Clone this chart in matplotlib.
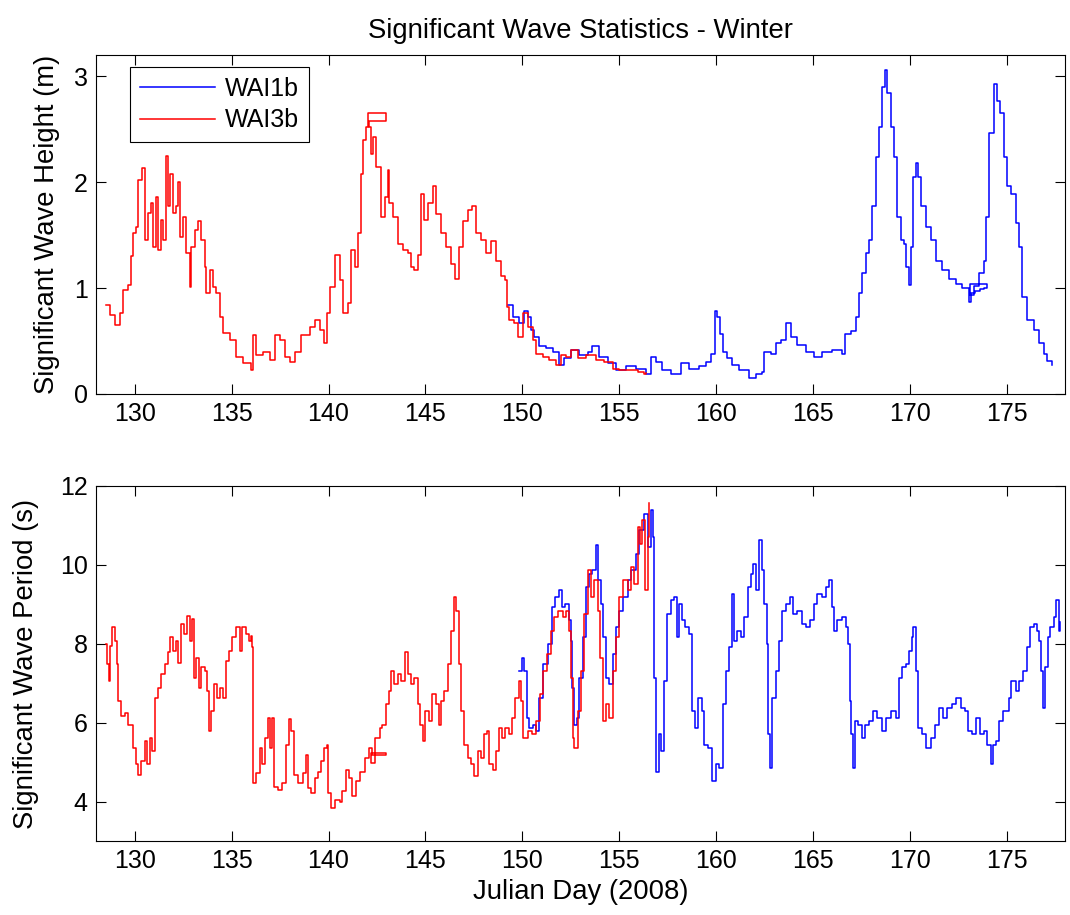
import numpy as np
import matplotlib
matplotlib.use("Agg")
from matplotlib import pyplot as plt

plt.rcParams["font.family"] = ["Liberation Sans", "DejaVu Sans"]

# significant wave height (m)
wai3b_h_day = [128.50, 128.71, 128.97, 129.23, 129.40, 129.65, 129.83, 129.90, 130.09, 130.17,
               130.40, 130.52, 130.69, 130.86, 130.94, 131.12, 131.20, 131.37, 131.46, 131.60,
               131.72, 131.80, 131.97, 132.15, 132.23, 132.32, 132.49, 132.66, 132.84, 132.92,
               133.09, 133.26, 133.44, 133.60, 133.70, 133.87, 134.04, 134.21, 134.38, 134.55,
               134.90, 135.24, 135.58, 136.01, 136.10, 136.27, 136.61, 136.96, 137.22, 137.47,
               137.73, 137.99, 138.25, 138.59, 139.02, 139.28, 139.54, 139.79, 139.91, 140.05,
               140.31, 140.57, 140.77, 141.00, 141.17, 141.34, 141.51, 141.69, 141.80, 141.94,
               142.03, 142.97, 142.11, 142.20, 142.28, 142.46, 142.71, 142.89, 143.06, 143.14,
               143.32, 143.57, 143.83, 144.09, 144.26, 144.43, 144.60, 144.77, 144.95, 145.12,
               145.38, 145.55, 145.81, 146.07, 146.32, 146.55, 146.72, 146.92, 147.18, 147.40,
               147.61, 147.87, 148.13, 148.38, 148.64, 148.90, 149.12, 149.19, 149.33, 149.59,
               149.76, 150.02, 150.27, 150.53, 150.70, 151.05, 151.39, 151.74, 151.99, 152.25,
               152.51, 152.85, 153.28, 153.80, 154.23, 154.66, 155.00, 155.52, 155.95, 156.29,
               156.40]
wai3b_h = [0.84, 0.75, 0.65, 0.76, 0.98, 1.03, 1.30, 1.52, 1.58, 2.02,
           2.13, 1.45, 1.71, 1.80, 1.39, 1.86, 1.36, 1.64, 1.45, 2.25,
           1.77, 2.08, 1.71, 1.77, 2.00, 1.48, 1.67, 1.33, 1.01, 1.39,
           1.55, 1.63, 1.45, 1.20, 0.95, 1.17, 1.01, 0.95, 0.73, 0.58,
           0.51, 0.35, 0.29, 0.23, 0.56, 0.37, 0.40, 0.32, 0.56, 0.51,
           0.35, 0.30, 0.40, 0.56, 0.63, 0.70, 0.60, 0.48, 0.76, 1.01,
           1.31, 1.08, 0.76, 0.86, 1.36, 1.20, 1.52, 2.08, 2.40, 2.52,
           2.65, 2.58, 2.52, 2.27, 2.43, 2.14, 1.67, 1.86, 2.11, 1.80,
           1.67, 1.42, 1.36, 1.33, 1.20, 1.17, 1.31, 1.89, 1.64, 1.80,
           1.96, 1.70, 1.52, 1.39, 1.23, 1.09, 1.39, 1.63, 1.74, 1.77,
           1.52, 1.45, 1.33, 1.44, 1.26, 1.11, 1.08, 0.82, 0.70, 0.67,
           0.54, 0.76, 0.63, 0.51, 0.38, 0.35, 0.32, 0.27, 0.37, 0.35,
           0.42, 0.34, 0.37, 0.32, 0.30, 0.24, 0.23, 0.23, 0.21, 0.19,
           0.20]

wai1b_h_day = [149.24, 149.50, 149.85, 150.10, 150.27, 150.45, 150.62, 150.88, 151.22, 151.56,
               151.91, 152.16, 152.51, 152.94, 153.37, 153.62, 153.97, 154.40, 154.83, 155.35,
               155.86, 156.37, 156.63, 156.89, 157.23, 157.66, 158.17, 158.60, 159.12, 159.47,
               159.72, 159.95, 160.07, 160.19, 160.33, 160.58, 160.84, 161.19, 161.70, 162.05,
               162.39, 162.47, 162.82, 163.07, 163.33, 163.59, 163.85, 164.19, 164.62, 165.05,
               165.48, 165.99, 166.48, 166.65, 166.94, 167.20, 167.37, 167.54, 167.71, 167.89,
               168.06, 168.23, 168.40, 168.57, 168.69, 168.83, 169.00, 169.18, 169.35, 169.52,
               169.69, 169.81, 169.95, 170.04, 170.16, 170.29, 170.41, 170.55, 170.81, 171.07,
               171.32, 171.67, 172.01, 172.36, 172.70, 173.04, 173.13, 173.35, 173.60, 173.80,
               173.99, 173.10, 173.30, 173.56, 173.81, 173.90, 174.07, 174.33, 174.50, 174.67,
               174.85, 175.02, 175.19, 175.45, 175.62, 175.79, 176.05, 176.39, 176.65, 176.90,
               177.08, 177.34]
wai1b_h = [0.84, 0.73, 0.67, 0.78, 0.73, 0.60, 0.54, 0.45, 0.43, 0.40,
           0.27, 0.34, 0.42, 0.37, 0.40, 0.45, 0.35, 0.29, 0.23, 0.26,
           0.24, 0.19, 0.35, 0.30, 0.23, 0.19, 0.29, 0.24, 0.26, 0.30,
           0.38, 0.78, 0.73, 0.57, 0.40, 0.34, 0.27, 0.23, 0.15, 0.19,
           0.21, 0.40, 0.38, 0.48, 0.51, 0.67, 0.54, 0.46, 0.40, 0.35,
           0.40, 0.42, 0.38, 0.57, 0.59, 0.73, 0.95, 1.14, 1.33, 1.45,
           1.77, 2.24, 2.52, 2.90, 3.06, 2.84, 2.52, 2.24, 1.67, 1.45,
           1.42, 1.20, 1.03, 1.39, 2.05, 2.18, 2.05, 1.77, 1.58, 1.45,
           1.26, 1.17, 1.09, 1.04, 1.00, 0.87, 0.95, 0.97, 0.99, 1.00,
           1.04, 0.93, 1.02, 1.14, 1.26, 1.67, 2.46, 2.93, 2.77, 2.65,
           2.24, 1.96, 1.89, 1.61, 1.39, 0.92, 0.70, 0.60, 0.48, 0.38,
           0.31, 0.27]

# significant wave period (s)
wai3b_t_day = [128.50, 128.57, 128.66, 128.71, 128.85, 128.97, 129.09, 129.14, 129.31, 129.48,
               129.66, 129.83, 129.91, 130.05, 130.17, 130.34, 130.52, 130.64, 130.77, 130.91,
               131.03, 131.20, 131.37, 131.55, 131.72, 131.84, 131.98, 132.11, 132.23, 132.40,
               132.54, 132.71, 132.83, 132.95, 133.04, 133.18, 133.32, 133.44, 133.61, 133.73,
               133.81, 133.95, 134.07, 134.24, 134.42, 134.55, 134.69, 134.86, 135.03, 135.24,
               135.41, 135.55, 135.72, 135.89, 136.01, 136.06, 136.10, 136.27, 136.44, 136.58,
               136.70, 136.87, 136.99, 137.10, 137.18, 137.39, 137.61, 137.78, 137.95, 138.08,
               138.20, 138.42, 138.68, 138.85, 138.93, 139.11, 139.28, 139.45, 139.62, 139.76,
               139.91, 139.98, 140.14, 140.31, 140.57, 140.70, 140.88, 141.05, 141.22, 141.43,
               141.63, 141.86, 142.08, 142.25, 142.97, 142.20, 142.42, 142.63, 142.77, 142.97,
               143.14, 143.23, 143.40, 143.57, 143.75, 143.92, 144.09, 144.26, 144.43, 144.60,
               144.73, 144.86, 145.00, 145.17, 145.34, 145.52, 145.69, 145.81, 145.98, 146.15,
               146.32, 146.46, 146.58, 146.72, 146.86, 147.01, 147.18, 147.35, 147.53, 147.70,
               147.87, 148.04, 148.16, 148.30, 148.47, 148.64, 148.78, 148.95, 149.12, 149.30,
               149.47, 149.64, 149.81, 149.93, 150.05, 150.28, 150.50, 150.70, 150.91, 151.08,
               151.25, 151.48, 151.65, 151.82, 152.08, 152.25, 152.39, 152.51, 152.59, 152.68,
               152.85, 153.02, 153.20, 153.37, 153.54, 153.71, 153.88, 154.02, 154.14, 154.31,
               154.48, 154.66, 154.83, 155.00, 155.21, 155.43, 155.60, 155.77, 155.95, 156.07,
               156.20, 156.34, 156.46, 156.55]
wai3b_t = [7.99, 7.48, 7.06, 7.95, 8.42, 8.08, 7.48, 6.55, 6.17, 6.25,
           5.95, 5.95, 5.36, 4.94, 4.68, 5.02, 5.53, 4.94, 5.61, 5.27,
           6.63, 6.89, 7.23, 7.48, 7.78, 8.16, 7.82, 8.08, 7.52, 8.50,
           8.25, 8.71, 8.08, 8.63, 7.14, 7.65, 6.89, 7.40, 7.31, 6.80,
           5.78, 6.29, 6.97, 6.63, 6.89, 6.63, 7.57, 7.82, 8.16, 8.42,
           7.82, 8.42, 8.25, 8.08, 8.20, 7.91, 4.47, 4.72, 5.36, 4.94,
           5.61, 6.12, 5.36, 6.12, 4.38, 4.30, 4.47, 5.44, 6.08, 5.78,
           4.68, 4.47, 4.72, 5.19, 4.34, 4.21, 4.60, 4.76, 5.02, 5.36,
           5.44, 4.21, 3.83, 4.04, 4.00, 4.26, 4.81, 4.60, 4.13, 4.51,
           4.76, 5.10, 5.36, 5.19, 5.23, 4.98, 5.61, 5.87, 5.95, 6.46,
           6.80, 7.31, 6.97, 7.23, 7.06, 7.78, 7.23, 6.97, 7.14, 6.46,
           5.95, 5.53, 6.29, 6.04, 6.72, 6.46, 5.95, 6.55, 6.80, 7.48,
           8.33, 9.18, 8.84, 7.48, 6.29, 5.44, 5.10, 4.94, 4.64, 5.27,
           5.10, 5.70, 5.78, 4.94, 4.81, 5.27, 5.87, 5.61, 5.87, 5.70,
           6.12, 6.63, 7.06, 6.55, 5.61, 5.78, 5.70, 6.04, 6.72, 7.31,
           7.74, 8.33, 8.67, 8.84, 8.67, 8.84, 8.33, 7.14, 5.61, 5.36,
           6.29, 7.31, 8.76, 9.86, 9.18, 9.61, 8.84, 7.65, 6.04, 6.46,
           6.12, 7.31, 8.16, 9.18, 9.61, 9.35, 9.94, 9.52, 10.96, 10.54,
           11.13, 9.35, 10.71, 11.56]

wai1b_t_day = [149.81, 149.98, 150.10, 150.22, 150.36, 150.53, 150.70, 150.88, 151.08, 151.31,
               151.53, 151.70, 151.87, 152.04, 152.22, 152.39, 152.51, 152.56, 152.68, 152.82,
               152.94, 153.11, 153.28, 153.45, 153.62, 153.80, 153.93, 154.05, 154.18, 154.31,
               154.48, 154.66, 154.83, 155.00, 155.21, 155.43, 155.60, 155.86, 156.03, 156.29,
               156.46, 156.63, 156.72, 156.80, 156.89, 157.03, 157.15, 157.32, 157.49, 157.66,
               157.84, 157.96, 158.09, 158.23, 158.40, 158.61, 158.75, 158.92, 159.09, 159.26,
               159.38, 159.60, 159.81, 159.98, 160.15, 160.33, 160.50, 160.67, 160.81, 160.93,
               161.10, 161.27, 161.44, 161.62, 161.79, 161.91, 162.05, 162.22, 162.35, 162.47,
               162.60, 162.70, 162.78, 162.90, 163.08, 163.25, 163.42, 163.59, 163.80, 163.97,
               164.19, 164.42, 164.62, 164.83, 165.05, 165.22, 165.48, 165.69, 165.83, 165.96,
               166.08, 166.26, 166.48, 166.68, 166.82, 166.89, 166.96, 167.06, 167.17, 167.34,
               167.51, 167.68, 167.89, 168.09, 168.32, 168.54, 168.75, 169.00, 169.26, 169.43,
               169.60, 169.81, 169.95, 170.09, 170.17, 170.29, 170.43, 170.64, 170.84, 171.07,
               171.29, 171.50, 171.70, 171.93, 172.18, 172.39, 172.61, 172.84, 173.01, 173.21,
               173.42, 173.64, 173.81, 173.99, 174.16, 174.28, 174.45, 174.62, 174.79, 174.97,
               175.10, 175.24, 175.45, 175.65, 175.82, 176.05, 176.22, 176.39, 176.56, 176.68,
               176.77, 176.87, 176.99, 177.13, 177.25, 177.42, 177.54, 177.68, 177.76]
wai1b_t = [7.31, 7.65, 7.31, 6.12, 5.87, 5.95, 5.78, 6.63, 7.48, 7.99,
           8.93, 9.18, 9.35, 8.93, 9.01, 8.59, 8.08, 6.89, 5.95, 6.12,
           7.14, 8.16, 9.44, 9.78, 9.86, 10.50, 9.61, 9.01, 8.16, 7.14,
           6.97, 7.74, 8.42, 8.84, 9.18, 9.61, 9.86, 10.28, 10.88, 11.30,
           10.45, 11.39, 10.71, 7.14, 4.76, 5.70, 5.27, 7.06, 8.76, 9.10,
           9.18, 8.16, 9.01, 8.59, 8.42, 8.25, 6.29, 5.87, 6.63, 6.29,
           5.44, 5.36, 4.51, 4.94, 4.85, 6.46, 7.31, 7.91, 9.27, 8.08,
           8.33, 8.16, 8.67, 9.44, 9.78, 10.03, 9.35, 10.62, 9.86, 9.01,
           7.99, 5.70, 4.85, 6.63, 7.31, 8.08, 8.84, 9.01, 9.18, 8.76,
           8.84, 8.50, 8.42, 8.59, 9.01, 9.27, 9.18, 9.44, 9.61, 8.93,
           8.33, 8.59, 8.67, 8.42, 7.99, 6.55, 5.70, 4.85, 6.04, 5.95,
           5.61, 5.95, 6.04, 6.29, 6.12, 5.78, 6.12, 6.29, 6.12, 7.14,
           7.40, 7.48, 7.82, 8.16, 8.42, 7.31, 5.87, 5.70, 5.36, 5.61,
           5.95, 6.38, 6.12, 6.38, 6.46, 6.63, 6.38, 6.29, 5.78, 5.70,
           6.12, 5.70, 5.78, 5.44, 4.94, 5.44, 5.53, 6.04, 6.29, 6.29,
           6.63, 7.06, 6.80, 7.06, 7.31, 7.91, 8.42, 8.50, 8.33, 8.08,
           7.31, 6.38, 7.40, 8.16, 8.42, 8.67, 9.10, 8.33, 8.55]

fig = plt.figure(figsize=(10.7, 9.15), dpi=100)
ax1 = fig.add_axes([0.0897, 0.5694, 0.9056, 0.3705])
ax2 = fig.add_axes([0.0897, 0.0809, 0.9056, 0.388])

fs = 18     # tick labels
lfs = 19.8  # axis labels / title
style = dict(lw=1.1, drawstyle="steps-post")
ax1.plot(wai1b_h_day, wai1b_h, color=(0, 0, 1), label="WAI1b", **style)
ax1.plot(wai3b_h_day, wai3b_h, color=(1, 0, 0), label="WAI3b", **style)
ax2.plot(wai1b_t_day, wai1b_t, color=(0, 0, 1), **style)
ax2.plot(wai3b_t_day, wai3b_t, color=(1, 0, 0), **style)

for ax in (ax1, ax2):
    ax.set_xlim(128, 178)
    ax.set_xticks(np.arange(130, 180, 5))
    ax.tick_params(direction="in", top=True, right=True, length=7, width=0.8,
                   labelsize=fs, pad=6)
    for s in ax.spines.values():
        s.set_linewidth(0.8)

ax1.set_ylim(0, 3.2)
ax1.set_yticks([0, 1, 2, 3])
ax2.set_ylim(3, 12)
ax2.set_yticks([4, 6, 8, 10, 12])

ax1.set_ylabel("Significant Wave Height (m)", fontsize=lfs, labelpad=10)
ax2.set_ylabel("Significant Wave Period (s)", fontsize=lfs, labelpad=15)
ax2.set_xlabel("Julian Day (2008)", fontsize=lfs, labelpad=4)
ax1.set_title("Significant Wave Statistics - Winter", fontsize=lfs, pad=12)

leg = ax1.legend(loc="upper left", bbox_to_anchor=(0.035, 0.965), borderaxespad=0,
                 fontsize=fs, fancybox=False, framealpha=1, edgecolor="black",
                 handlelength=3.0, handletextpad=0.4, labelspacing=0.3, borderpad=0.4)
leg.get_frame().set_linewidth(0.8)
for h in leg.get_lines():
    h.set_drawstyle("default")

fig.savefig("out.png", dpi=100)
